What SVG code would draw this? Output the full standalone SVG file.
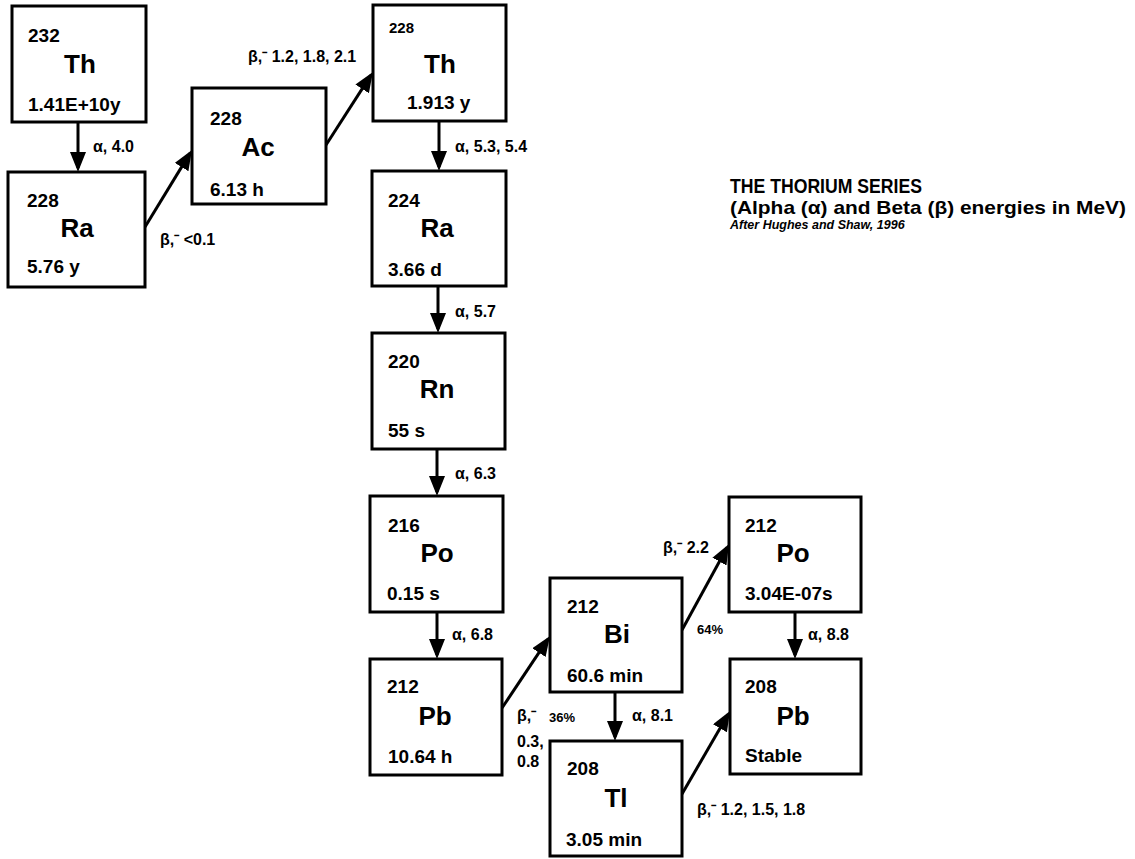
<svg xmlns="http://www.w3.org/2000/svg" width="1135" height="859" viewBox="0 0 1135 859">
<style>
.box{fill:#fff;stroke:#000;stroke-width:3}
.t{font-family:"Liberation Sans",Arial,sans-serif;font-weight:bold;fill:#000}
.num{font-size:19px}
.el{font-size:26px;text-anchor:middle}
.hl{font-size:19px}
.lb{font-size:16px}
.sm{font-size:13px}
.conn line{stroke:#000;stroke-width:3;marker-end:url(#ah)}
</style>
<defs>
<marker id="ah" markerUnits="userSpaceOnUse" markerWidth="22" markerHeight="18" refX="16" refY="8" orient="auto">
<path d="M0,0 L20,8 L0,16 z" fill="#000"/>
</marker>
</defs>
<rect width="1135" height="859" fill="#fff"/>

<g class="conn" id="connectors">
<line x1="78" y1="122" x2="78" y2="168"/>
<line x1="145" y1="227" x2="189.9" y2="153.4"/>
<line x1="326" y1="145" x2="370.8" y2="75.4"/>
<line x1="439" y1="121" x2="439" y2="167"/>
<line x1="438" y1="286" x2="438" y2="329"/>
<line x1="437" y1="449" x2="437" y2="492"/>
<line x1="437" y1="612" x2="437" y2="655"/>
<line x1="502" y1="708" x2="547.8" y2="639.3"/>
<line x1="682" y1="630" x2="727.1" y2="547.5"/>
<line x1="615" y1="692" x2="615" y2="737"/>
<line x1="795" y1="612" x2="795" y2="655"/>
<line x1="682" y1="794" x2="728" y2="714.5"/>
</g>

<g id="labels" class="t">
<text class="lb" x="93" y="152">α, 4.0</text>
<text class="lb" x="160" y="245">β,⁻ &lt;0.1</text>
<text class="lb" x="248" y="62">β,⁻ 1.2, 1.8, 2.1</text>
<text class="lb" x="455" y="152">α, 5.3, 5.4</text>
<text class="lb" x="455" y="317">α, 5.7</text>
<text class="lb" x="455" y="479">α, 6.3</text>
<text class="lb" x="452" y="640">α, 6.8</text>
<text class="lb" x="663" y="553">β,⁻ 2.2</text>
<text class="sm" x="697" y="634">64%</text>
<text class="lb" x="517" y="721">β,⁻</text>
<text class="sm" x="549" y="722">36%</text>
<text class="lb" x="517" y="747">0.3,</text>
<text class="lb" x="517" y="767">0.8</text>
<text class="lb" x="632" y="721">α, 8.1</text>
<text class="lb" x="697" y="815">β,⁻ 1.2, 1.5, 1.8</text>
<text class="lb" x="808" y="640">α, 8.8</text>
</g>

<g id="th232">
<rect class="box" x="12" y="6" width="134" height="116"/>
<text class="t num" x="28" y="42">232</text>
<text class="t el" x="80" y="73">Th</text>
<text class="t hl" x="28" y="111">1.41E+10y</text>
</g>
<g id="ra228">
<rect class="box" x="8" y="172" width="137" height="115"/>
<text class="t num" x="27" y="207">228</text>
<text class="t el" x="77" y="237">Ra</text>
<text class="t hl" x="27" y="273">5.76 y</text>
</g>
<g id="ac228">
<rect class="box" x="192" y="88" width="134" height="116"/>
<text class="t num" x="210" y="125">228</text>
<text class="t el" x="258" y="156">Ac</text>
<text class="t hl" x="210" y="196">6.13 h</text>
</g>
<g id="th228">
<rect class="box" x="373" y="5" width="133" height="116"/>
<text class="t" font-size="15" x="389" y="33">228</text>
<text class="t el" x="440" y="73">Th</text>
<text class="t hl" x="407" y="109">1.913 y</text>
</g>
<g id="ra224">
<rect class="box" x="372" y="171" width="134" height="115"/>
<text class="t num" x="388" y="207">224</text>
<text class="t el" x="437" y="237">Ra</text>
<text class="t hl" x="388" y="276">3.66 d</text>
</g>
<g id="rn220">
<rect class="box" x="372" y="333" width="133" height="116"/>
<text class="t num" x="388" y="368">220</text>
<text class="t el" x="437" y="398">Rn</text>
<text class="t hl" x="388" y="437">55 s</text>
</g>
<g id="po216">
<rect class="box" x="370" y="496" width="133" height="116"/>
<text class="t num" x="388" y="532">216</text>
<text class="t el" x="437" y="562">Po</text>
<text class="t hl" x="387" y="600">0.15 s</text>
</g>
<g id="pb212">
<rect class="box" x="370" y="659" width="132" height="116"/>
<text class="t num" x="387" y="693">212</text>
<text class="t el" x="435" y="725">Pb</text>
<text class="t hl" x="388" y="763">10.64 h</text>
</g>
<g id="bi212">
<rect class="box" x="550" y="578" width="132" height="114"/>
<text class="t num" x="567" y="613">212</text>
<text class="t el" x="617" y="643">Bi</text>
<text class="t hl" x="567" y="682">60.6 min</text>
</g>
<g id="tl208">
<rect class="box" x="550" y="741" width="132" height="115"/>
<text class="t num" x="567" y="775">208</text>
<text class="t el" x="616" y="807">Tl</text>
<text class="t hl" x="566" y="846">3.05 min</text>
</g>
<g id="po212">
<rect class="box" x="729" y="497" width="132" height="115"/>
<text class="t num" x="745" y="532">212</text>
<text class="t el" x="793" y="562">Po</text>
<text class="t hl" x="745" y="600">3.04E-07s</text>
</g>
<g id="pb208">
<rect class="box" x="730" y="659" width="131" height="115"/>
<text class="t num" x="745" y="693">208</text>
<text class="t el" x="793" y="725">Pb</text>
<text class="t hl" x="745" y="762">Stable</text>
</g>

<g id="title" class="t">
<text x="730" y="193" font-size="20" textLength="192" lengthAdjust="spacingAndGlyphs">THE THORIUM SERIES</text>
<text x="730" y="214" font-size="19" textLength="396" lengthAdjust="spacingAndGlyphs">(Alpha (α) and Beta (β) energies in MeV)</text>
<text x="730" y="229" font-size="12.5" font-style="italic">After Hughes and Shaw, 1996</text>
</g>
</svg>
